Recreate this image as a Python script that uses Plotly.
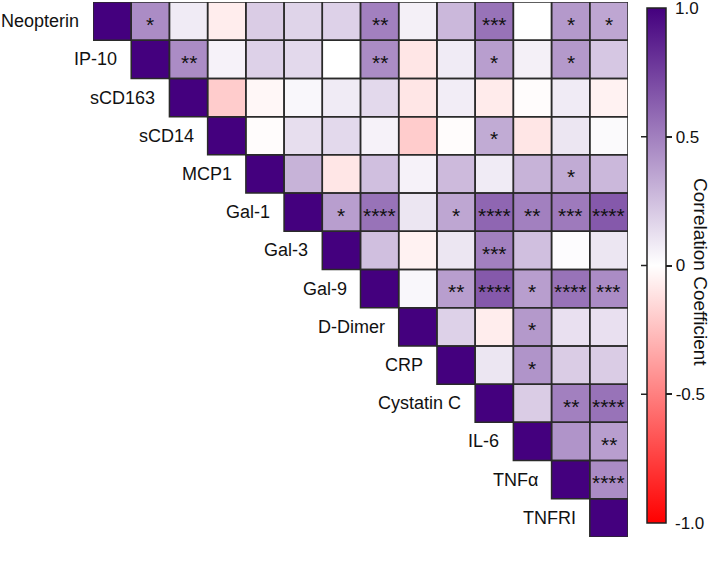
import numpy as np
import plotly.graph_objects as go

labels = ["Neopterin", "IP-10", "sCD163", "sCD14", "MCP1", "Gal-1", "Gal-3",
          "Gal-9", "D-Dimer", "CRP", "Cystatin C", "IL-6", "TNFα", "TNFRI"]

# upper-triangle correlation values per row (columns i+1 .. 13)
row_vals = [
    [0.45, 0.08, -0.07, 0.20, 0.17, 0.18, 0.50, 0.06, 0.28, 0.55, 0.00, 0.40, 0.35],
    [0.45, 0.05, 0.18, 0.15, 0.00, 0.45, -0.10, 0.08, 0.38, 0.06, 0.40, 0.22],
    [-0.20, -0.03, 0.03, 0.08, 0.15, -0.10, 0.07, -0.08, -0.01, 0.08, -0.05],
    [-0.01, 0.13, 0.15, 0.05, -0.20, -0.01, 0.33, -0.10, 0.10, 0.02],
    [0.30, -0.10, 0.25, 0.05, 0.27, 0.08, 0.30, 0.33, 0.28],
    [0.38, 0.55, 0.10, 0.35, 0.60, 0.50, 0.52, 0.65],
    [0.25, -0.05, 0.10, 0.50, 0.25, 0.01, 0.10],
    [0.03, 0.38, 0.65, 0.38, 0.55, 0.45],
    [0.18, -0.07, 0.40, 0.12, 0.12],
    [0.10, 0.42, 0.20, 0.20],
    [0.20, 0.50, 0.55],
    [0.42, 0.38],
    [0.45],
]

row_stars = [
    ["*", "", "", "", "", "", "**", "", "", "***", "", "*", "*"],
    ["**", "", "", "", "", "**", "", "", "*", "", "*", ""],
    ["", "", "", "", "", "", "", "", "", "", ""],
    ["", "", "", "", "", "", "*", "", "", ""],
    ["", "", "", "", "", "", "", "*", ""],
    ["*", "****", "", "*", "****", "**", "***", "****"],
    ["", "", "", "***", "", "", ""],
    ["", "**", "****", "*", "****", "***"],
    ["", "", "*", "", ""],
    ["", "*", "", ""],
    ["", "**", "****"],
    ["", "**"],
    ["****"],
]

cb_tickvals = [1.0, 0.5, 0, -0.5, -1.0]
cb_ticktext = ["1.0", "0.5", "0", "-0.5", "-1.0"]
cb_title = "Correlation Coefficient"

n = len(labels)
z = np.full((n, n), np.nan)
for i in range(n):
    z[i, i] = 1.0
    for k, v in enumerate(row_vals[i] if i < len(row_vals) else []):
        z[i, i + 1 + k] = v

colorscale = [[0.0, "rgb(255,0,0)"], [0.5, "rgb(255,255,255)"], [1.0, "rgb(68,0,126)"]]
FONT = "Liberation Sans, Arial"

# geometry (pixels)
L, R, T, B = 93, 83, 2, 41
W, H = 711, 578
plot_w = W - L - R
plot_h = H - T - B
cb_left, cb_top, cb_len, cb_thick = 647, 8, 515, 19


def px_to_paper_x(px):
    return (px - L) / plot_w


def px_to_paper_y(py):
    return 1 - (py - T) / plot_h


def cb_val_to_py(v):
    return cb_top + (1 - v) / 2 * cb_len


fig = go.Figure()
fig.add_trace(go.Heatmap(
    z=z, x=list(range(n)), y=list(range(n)),
    zmin=-1, zmax=1, colorscale=colorscale, hoverongaps=False,
    colorbar=dict(
        x=px_to_paper_x(cb_left), xanchor="left", xpad=0,
        y=px_to_paper_y(cb_top + cb_len / 2), yanchor="middle", ypad=0,
        thicknessmode="pixels", thickness=cb_thick,
        lenmode="pixels", len=cb_len,
        outlinecolor="#222", outlinewidth=1.5,
        tickmode="array", tickvals=cb_tickvals[1:-1], ticktext=cb_ticktext[1:-1],
        ticks="outside", ticklen=6, tickwidth=1.5, tickcolor="#222",
        tickfont=dict(family=FONT, size=17, color="#111"),
    ),
))

annotations = []
# stars
for i in range(len(row_stars)):
    for k, s in enumerate(row_stars[i]):
        if s:
            annotations.append(dict(x=i + 1 + k, y=i, xref="x", yref="y", text=s,
                                    showarrow=False, xanchor="center", yanchor="middle",
                                    yshift=-3,
                                    font=dict(family=FONT, size=21, color="#111")))

# cell borders
shapes = []
for i in range(n):
    for j in range(i, n):
        shapes.append(dict(type="rect", xref="x", yref="y", x0=j - 0.5, x1=j + 0.5,
                           y0=i - 0.5, y1=i + 0.5, line=dict(color="#2a2a2a", width=1.5),
                           fillcolor="rgba(0,0,0,0)"))
# left-side tick dashes on colorbar
for tv in cb_tickvals[1:-1]:
    yp = px_to_paper_y(cb_val_to_py(tv))
    shapes.append(dict(type="line", xref="paper", yref="paper",
                       x0=px_to_paper_x(cb_left - 6), x1=px_to_paper_x(cb_left + 3),
                       y0=yp, y1=yp, line=dict(color="#222", width=1.5)))
fig.update_layout(shapes=shapes)

# end tick labels of the colorbar (1.0 / -1.0)
for tv, tt in [(cb_tickvals[0], cb_ticktext[0]), (cb_tickvals[-1], cb_ticktext[-1])]:
    annotations.append(dict(x=px_to_paper_x(cb_left + cb_thick + 7), y=px_to_paper_y(cb_val_to_py(tv)),
                            xref="paper", yref="paper", text=tt, showarrow=False,
                            xanchor="left", yanchor="middle", xshift=0,
                            font=dict(family=FONT, size=17, color="#111")))

for i, lab in enumerate(labels):
    annotations.append(dict(x=i - 0.5, y=i, xref="x", yref="y", text=lab, showarrow=False,
                            xanchor="right", yanchor="middle", xshift=-12,
                            font=dict(family=FONT, size=18, color="#111")))
# colorbar title
annotations.append(dict(x=px_to_paper_x(700), y=px_to_paper_y(272), xref="paper", yref="paper",
                        text=cb_title, textangle=90, showarrow=False,
                        xanchor="center", yanchor="middle",
                        font=dict(family=FONT, size=19, color="#111")))
fig.update_layout(annotations=annotations)

fig.update_xaxes(range=[-0.5, n - 0.5], visible=False, showgrid=False, zeroline=False)
fig.update_yaxes(range=[n - 0.5, -0.5], visible=False, showgrid=False, zeroline=False)
fig.update_layout(
    width=W, height=H,
    margin=dict(l=L, r=R, t=T, b=B, autoexpand=False),
    paper_bgcolor="white", plot_bgcolor="white",
    showlegend=False,
)

fig.write_html("out.html", config={"displayModeBar": False},
               post_script="document.body.style.margin='0';")
